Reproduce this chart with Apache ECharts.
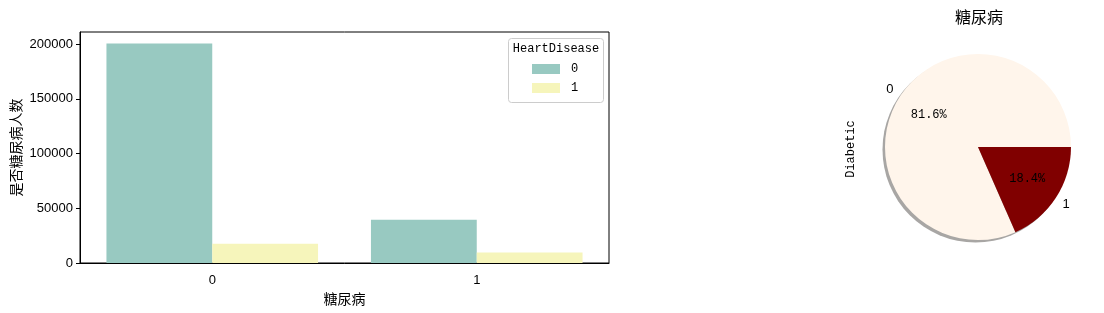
<!DOCTYPE html>
<html><head><meta charset="utf-8">
<script src="https://cdn.jsdelivr.net/npm/echarts@6/dist/echarts.min.js"></script>
<style>html,body{margin:0;padding:0;background:#fff}#c{width:1104px;height:313px}</style>
</head><body><div id="c"></div>
<script>
const categories = ['0', '1'];
const legendNames = ['0', '1'];
const heartDisease0 = [200500, 39500];
const heartDisease1 = [17600, 9700];
const yTicks = [0, 50000, 100000, 150000, 200000];
const pieNames = ['0', '1'];
const pieValues = categories.map((c, i) => heartDisease0[i] + heartDisease1[i]);

const CJK = '"Noto Sans CJK SC", sans-serif';
const MONO = '"Liberation Mono", "DejaVu Sans Mono", monospace';
const SANS = '"Liberation Sans", Arial, sans-serif';
const barColors = ['#98c9c1', '#f6f5bb'];
const pieColors = ['#fff5eb', '#800000'];
const R = 93, CX = 978, CY = 147;

const chart = echarts.init(document.getElementById('c'), null, {renderer: 'canvas'});
chart.setOption({
  animation: false,
  graphic: [
    {type: 'rect', shape: {x: 508.5, y: 38.5, width: 95, height: 64, r: 3}, z: 0,
     style: {fill: '#fff', stroke: '#cccccc', lineWidth: 1}},
    {type: 'text', x: 556, y: 49, z: 5,
     style: {text: 'HeartDisease', fontFamily: MONO, fontSize: 12, fill: '#000', align: 'center', verticalAlign: 'middle'}},
    {type: 'text', x: 979, y: 17, z: 5,
     style: {text: '糖尿病', fontFamily: CJK, fontSize: 16, fill: '#000', align: 'center', verticalAlign: 'middle'}},
    {type: 'text', x: 851, y: 149, rotation: Math.PI / 2,
     style: {text: 'Diabetic', fontFamily: MONO, fontSize: 12, fill: '#000', align: 'center', verticalAlign: 'middle'}}
  ],
  legend: {
    data: legendNames, left: 532, top: 63, orient: 'vertical',
    itemWidth: 28, itemHeight: 10, itemGap: 7, padding: 0,
    textStyle: {fontFamily: MONO, fontSize: 12, color: '#000', padding: [0, 0, 0, 6]}, icon: 'rect',
    itemStyle: {borderWidth: 0}
  },
  grid: {left: 80, top: 32, width: 529, height: 231, show: true, borderColor: '#000', borderWidth: 1, containLabel: false},
  xAxis: {
    type: 'category', data: categories,
    name: '糖尿病', nameLocation: 'middle', nameGap: 28,
    nameTextStyle: {fontFamily: CJK, fontSize: 14, color: '#000'},
    axisLine: {lineStyle: {color: '#000'}},
    axisTick: {alignWithLabel: true, length: 4, lineStyle: {color: '#000'}},
    axisLabel: {fontFamily: SANS, fontSize: 13, color: '#000', margin: 11}
  },
  yAxis: {
    type: 'value', min: 0, max: 210959, interval: 50000,
    name: '是否糖尿病人数', nameLocation: 'middle', nameGap: 57, nameRotate: 90,
    nameTextStyle: {fontFamily: CJK, fontSize: 14, color: '#000'},
    splitLine: {show: false},
    axisLine: {show: true, lineStyle: {color: '#000'}},
    axisTick: {show: true, length: 4, lineStyle: {color: '#000'}},
    axisLabel: {fontFamily: SANS, fontSize: 13, color: '#000', margin: 7, showMaxLabel: false,
      formatter: v => yTicks.includes(v) ? String(v) : ''}
  },
  series: [
    {type: 'bar', name: legendNames[0], data: heartDisease0, barGap: '0%', barCategoryGap: '20%',
     itemStyle: {color: barColors[0]}},
    {type: 'bar', name: legendNames[1], data: heartDisease1, barGap: '0%', barCategoryGap: '20%',
     itemStyle: {color: barColors[1]}},
    // shadow disc
    {type: 'pie', center: [CX - 2.5, CY + 2.5], radius: R, silent: true, clockwise: false, startAngle: 0,
     label: {show: false}, labelLine: {show: false},
     data: [{value: 1, name: 'shadow'}], itemStyle: {color: '#a8a6a4'}, z: 1},
    // main pie
    {type: 'pie', center: [CX, CY], radius: R, silent: true, clockwise: false, startAngle: 0,
     label: {show: false}, labelLine: {show: false},
     data: pieNames.map((n, i) => ({name: n, value: pieValues[i], itemStyle: {color: pieColors[i]}})), z: 2},
    // percent labels at 0.6 R
    {type: 'pie', center: [CX, CY], radius: R * 1.2, silent: true, clockwise: false, startAngle: 0,
     percentPrecision: 1, itemStyle: {color: 'rgba(0,0,0,0)'}, labelLine: {show: false},
     label: {show: true, position: 'inside', formatter: '{d}%', fontFamily: MONO, fontSize: 12, color: '#000'},
     data: pieNames.map((n, i) => ({name: n, value: pieValues[i]})), z: 3},
    // name labels at 1.1 R
    {type: 'pie', center: [CX, CY], radius: R * 2.2, silent: true, clockwise: false, startAngle: 0,
     itemStyle: {color: 'rgba(0,0,0,0)'}, labelLine: {show: false},
     label: {show: true, position: 'inside', formatter: '{b}', fontFamily: SANS, fontSize: 13, color: '#000'},
     data: pieNames.map((n, i) => ({name: n, value: pieValues[i]})), z: 3}
  ]
});
</script></body></html>
